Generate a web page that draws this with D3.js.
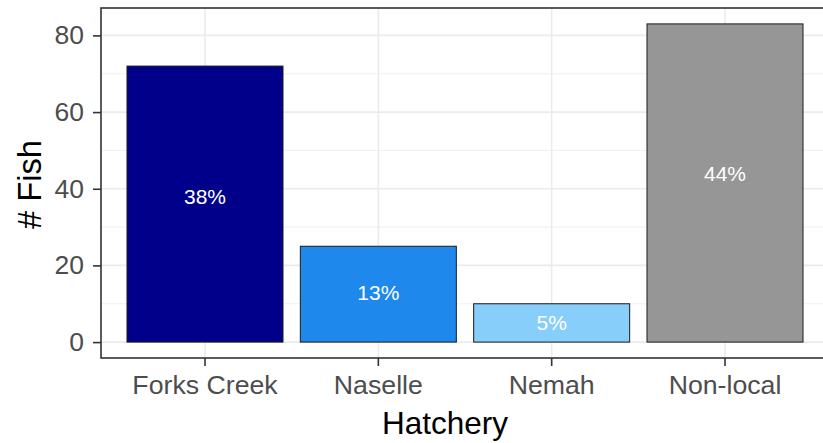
<!DOCTYPE html>
<html>
<head>
<meta charset="utf-8">
<script src="https://cdn.jsdelivr.net/npm/d3@7"></script>
<style>
  html, body { margin: 0; padding: 0; background: #fff; }
  svg { display: block; font-family: "Liberation Sans", Arial, sans-serif; }
</style>
</head>
<body>
<svg id="chart" width="823" height="443"></svg>
<script>
const categories = ["Forks Creek", "Naselle", "Nemah", "Non-local"];
const counts = [72, 25, 10, 83];
const percents = [38, 13, 5, 44];
const colors = ["#00008B", "#1E88EC", "#87CEFA", "#969696"];
const yTicks = [0, 20, 40, 60, 80];
const yMinor = [10, 30, 50, 70];

const data = categories.map((c, i) => ({ cat: c, n: counts[i], pct: percents[i], color: colors[i] }));

const svg = d3.select("#chart");
const panel = { left: 101, right: 829, top: 8, bottom: 358 };

const yMax = d3.max(counts);
const expand = yMax * 0.05;
const y = d3.scaleLinear().domain([-expand, yMax + expand]).range([panel.bottom, panel.top]);
const x = d3.scaleBand().domain(categories).range([panel.left, panel.right])
  .paddingInner(0.1).paddingOuter(0.15);

// panel background
svg.append("rect").attr("x", panel.left).attr("y", panel.top)
  .attr("width", panel.right - panel.left).attr("height", panel.bottom - panel.top)
  .attr("fill", "#fff");

const grid = svg.append("g");
grid.selectAll(".minor").data(yMinor).join("line")
  .attr("x1", panel.left).attr("x2", panel.right)
  .attr("y1", d => y(d)).attr("y2", d => y(d))
  .attr("stroke", "#EBEBEB").attr("stroke-width", 0.8);
grid.selectAll(".major").data(yTicks).join("line")
  .attr("x1", panel.left).attr("x2", panel.right)
  .attr("y1", d => y(d)).attr("y2", d => y(d))
  .attr("stroke", "#EBEBEB").attr("stroke-width", 1.6);
grid.selectAll(".vmajor").data(categories).join("line")
  .attr("x1", d => x(d) + x.bandwidth() / 2).attr("x2", d => x(d) + x.bandwidth() / 2)
  .attr("y1", panel.top).attr("y2", panel.bottom)
  .attr("stroke", "#EBEBEB").attr("stroke-width", 1.6);

// bars
svg.append("g").selectAll("rect").data(data).join("rect")
  .attr("x", d => x(d.cat)).attr("width", x.bandwidth())
  .attr("y", d => y(d.n)).attr("height", d => y(0) - y(d.n))
  .attr("fill", d => d.color)
  .attr("stroke", "#1a1a1a").attr("stroke-width", 1);

// labels (placed at y = percent value)
svg.append("g").selectAll("text").data(data).join("text")
  .attr("x", d => x(d.cat) + x.bandwidth() / 2)
  .attr("y", d => y(d.pct))
  .attr("dy", "0.35em")
  .attr("text-anchor", "middle")
  .attr("fill", "#ffffff")
  .attr("font-size", "21px")
  .text(d => d.pct + "%");

// panel border
svg.append("rect").attr("x", panel.left).attr("y", panel.top)
  .attr("width", panel.right - panel.left).attr("height", panel.bottom - panel.top)
  .attr("fill", "none").attr("stroke", "#333333").attr("stroke-width", 1.6);

// y axis
const yAxis = svg.append("g").attr("transform", `translate(${panel.left},0)`)
  .call(d3.axisLeft(y).tickValues(yTicks).tickSize(8).tickPadding(9));
yAxis.select(".domain").remove();
yAxis.selectAll(".tick line").attr("stroke", "#333333").attr("stroke-width", 1.6);
yAxis.selectAll(".tick text").attr("fill", "#4D4D4D").attr("font-size", "26.5px")
  .attr("font-family", "Liberation Sans, Arial, sans-serif");

// x axis
const xAxis = svg.append("g").attr("transform", `translate(0,${panel.bottom})`)
  .call(d3.axisBottom(x).tickSize(8).tickPadding(9));
xAxis.select(".domain").remove();
xAxis.selectAll(".tick line").attr("stroke", "#333333").attr("stroke-width", 1.6);
xAxis.selectAll(".tick text").attr("fill", "#4D4D4D").attr("font-size", "26.7px")
  .attr("font-family", "Liberation Sans, Arial, sans-serif");

// axis titles
svg.append("text").attr("x", 445).attr("y", 434)
  .attr("text-anchor", "middle").attr("font-size", "31.5px").attr("fill", "#000")
  .text("Hatchery");
svg.append("text")
  .attr("transform", `translate(41,184.5) rotate(-90)`)
  .attr("text-anchor", "middle").attr("font-size", "32.7px").attr("fill", "#000")
  .text("# Fish");
</script>
</body>
</html>
